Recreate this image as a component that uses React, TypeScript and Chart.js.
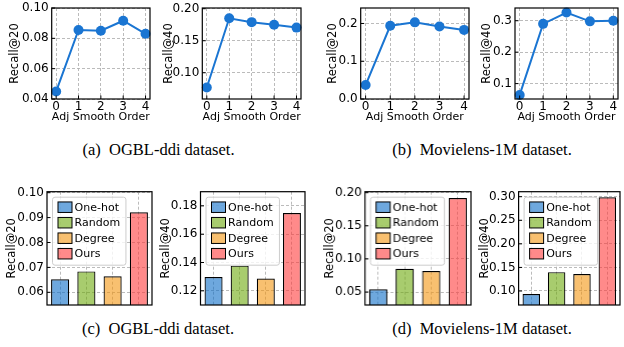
import React, { useEffect, useRef } from 'react';
import { Chart, registerables } from 'chart.js';
Chart.register(...registerables);
Chart.defaults.font.family = '"DejaVu Sans", sans-serif';
Chart.defaults.color = '#000';

// ---------- data ----------
const ORDERS = [0, 1, 2, 3, 4];
const ORDER_TICKS = ['0', '1', '2', '3', '4'];
const ORDER_TITLE = 'Adj Smooth Order';

const OGBL_ORDER_R20 = [0.045, 0.0855, 0.085, 0.0916, 0.083];
const OGBL_ORDER_R40 = [0.077, 0.185, 0.179, 0.175, 0.1705];
const ML_ORDER_R20 = [0.037, 0.194, 0.203, 0.192, 0.183];
const ML_ORDER_R40 = [0.064, 0.29, 0.326, 0.298, 0.3];

const OGBL_ORDER_R20_TICKS = ['0.04', '0.06', '0.08', '0.10'];
const OGBL_ORDER_R40_TICKS = ['0.10', '0.15', '0.20'];
const ML_ORDER_R20_TICKS = ['0.0', '0.1', '0.2'];
const ML_ORDER_R40_TICKS = ['0.1', '0.2', '0.3'];

const OGBL_ORDER_R20_RANGE = [0.04, 0.1];
const OGBL_ORDER_R40_RANGE = [0.059, 0.2011];
const ML_ORDER_R20_RANGE = [0.0, 0.241];
const ML_ORDER_R40_RANGE = [0.051, 0.3405];

const FEATURES = ['One-hot', 'Random', 'Degree', 'Ours'];
const OGBL_FEAT_R20 = [0.0652, 0.0684, 0.0664, 0.0921];
const OGBL_FEAT_R40 = [0.1297, 0.1378, 0.1287, 0.1749];
const ML_FEAT_R20 = [0.054, 0.085, 0.0817, 0.192];
const ML_FEAT_R40 = [0.0937, 0.14, 0.1358, 0.2988];

const OGBL_FEAT_R20_TICKS = ['0.06', '0.07', '0.08', '0.09', '0.10'];
const OGBL_FEAT_R40_TICKS = ['0.12', '0.14', '0.16', '0.18'];
const ML_FEAT_R20_TICKS = ['0.05', '0.10', '0.15', '0.20'];
const ML_FEAT_R40_TICKS = ['0.10', '0.15', '0.20', '0.25', '0.30'];

const OGBL_FEAT_R20_RANGE = [0.0549, 0.1004];
const OGBL_FEAT_R40_RANGE = [0.11, 0.19];
const ML_FEAT_R20_RANGE = [0.0304, 0.2015];
const ML_FEAT_R40_RANGE = [0.0703, 0.3106];

const CAPTIONS = ['(a)\u2002OGBL-ddi dataset.', '(b)\u2002Movielens-1M dataset.', '(c)\u2002OGBL-ddi dataset.', '(d)\u2002Movielens-1M dataset.'];

// ---------- styles ----------
const LINE_COLOR = '#1a75d2';
const BAR_COLORS = ['rgba(13,110,200,0.6)', 'rgba(110,170,13,0.6)', 'rgba(243,150,17,0.6)', 'rgba(255,60,60,0.6)'];
const GRID_COLOR = '#b3b3b3';

const framePlugin = {
  id: 'frame',
  afterDatasetsDraw(chart: any) {
    const { ctx, chartArea: a } = chart;
    const opts = chart.options.plugins.frame || {};
    ctx.save();
    ctx.strokeStyle = '#000';
    ctx.lineWidth = 1;
    const ys = chart.scales.y;
    ys.ticks.forEach((t: any) => {
      const y = ys.getPixelForValue(t.value);
      ctx.beginPath();
      ctx.moveTo(a.left, y);
      ctx.lineTo(a.left + 3.5, y);
      ctx.stroke();
    });
    if (opts.xTicks) {
      const xs = chart.scales.x;
      xs.ticks.forEach((t: any) => {
        const x = xs.getPixelForValue(t.value);
        ctx.beginPath();
        ctx.moveTo(x, a.bottom);
        ctx.lineTo(x, a.bottom - 3.5);
        ctx.stroke();
      });
    }
    ctx.lineWidth = 1.2;
    ctx.strokeRect(a.left, a.top, a.right - a.left, a.bottom - a.top);
    ctx.restore();
  },
};

const insetLegendPlugin = {
  id: 'insetLegend',
  afterDraw(chart: any) {
    const opts = chart.options.plugins.insetLegend;
    if (!opts || !opts.display) return;
    const { ctx, chartArea: a } = chart;
    const labels: string[] = chart.data.labels;
    const colors: string[] = chart.data.datasets[0].backgroundColor;
    ctx.save();
    ctx.font = '11px "DejaVu Sans"';
    const textW = Math.max(...labels.map((l) => ctx.measureText(l).width));
    const x0 = a.left + 5.5;
    const y0 = a.top + 5.5;
    const w = 5.5 + 14 + 2.6 + textW + 5.8;
    const h = 68;
    const r = 2.5;
    ctx.beginPath();
    ctx.moveTo(x0 + r, y0);
    ctx.arcTo(x0 + w, y0, x0 + w, y0 + h, r);
    ctx.arcTo(x0 + w, y0 + h, x0, y0 + h, r);
    ctx.arcTo(x0, y0 + h, x0, y0, r);
    ctx.arcTo(x0, y0, x0 + w, y0, r);
    ctx.closePath();
    ctx.fillStyle = 'rgba(255,255,255,0.8)';
    ctx.fill();
    ctx.strokeStyle = '#cccccc';
    ctx.lineWidth = 1;
    ctx.stroke();
    labels.forEach((l, i) => {
      const cy = y0 + 10 + i * 15.5;
      ctx.fillStyle = colors[i];
      ctx.fillRect(x0 + 5.5, cy - 5.25, 14, 10.5);
      ctx.strokeStyle = '#000';
      ctx.lineWidth = 1;
      ctx.strokeRect(x0 + 5.5, cy - 5.25, 14, 10.5);
      ctx.fillStyle = '#000';
      ctx.textBaseline = 'middle';
      ctx.textAlign = 'left';
      ctx.fillText(l, x0 + 5.5 + 14 + 2.6, cy + 0.5);
    });
    ctx.restore();
  },
};

type Box = { l: number; t: number; r: number; b: number };

function yScale(box: Box, canvasLeft: number, ticks: string[], range: number[], title: string) {
  return {
    type: 'linear',
    min: range[0],
    max: range[1],
    afterBuildTicks: (s: any) => {
      s.ticks = ticks.map((t) => ({ value: parseFloat(t) }));
    },
    afterFit: (s: any) => {
      s.width = box.l - canvasLeft;
      s.paddingTop = 0;
      s.paddingBottom = 0;
    },
    ticks: {
      callback: (_v: any, i: number) => ticks[i],
      font: { size: 12 },
      color: '#000',
      padding: 3,
    },
    grid: { color: GRID_COLOR, lineWidth: 0.9, drawTicks: false },
    border: { display: false, dash: [3, 2] },
    title: { display: true, text: title, font: { size: 11.5 }, color: '#000', padding: 0 },
  };
}

function LinePanel(props: { box: Box; titleX: number; values: number[]; ticks: string[]; range: number[]; ytitle: string }) {
  const ref = useRef<HTMLCanvasElement>(null);
  const { box, titleX } = props;
  const cl = titleX - 7;
  const ct = 0;
  const cr = box.r + 1;
  const cb = 124;
  useEffect(() => {
    const chart = new Chart(ref.current as HTMLCanvasElement, {
      type: 'line',
      data: {
        datasets: [
          {
            data: ORDERS.map((x, i) => ({ x, y: props.values[i] })),
            borderColor: LINE_COLOR,
            backgroundColor: LINE_COLOR,
            borderWidth: 2,
            pointRadius: 5,
            pointBorderWidth: 0,
            pointBackgroundColor: LINE_COLOR,
            tension: 0,
            clip: false,
          } as any,
        ],
      },
      options: {
        responsive: false,
        animation: false,
        layout: { padding: { left: 0, top: box.t - ct, right: cr - box.r, bottom: 0 } },
        plugins: { legend: { display: false }, tooltip: { enabled: false }, frame: { xTicks: true } } as any,
        scales: {
          x: {
            type: 'linear',
            min: -0.2,
            max: 4.2,
            afterBuildTicks: (s: any) => {
              s.ticks = ORDERS.map((v) => ({ value: v }));
            },
            afterFit: (s: any) => {
              s.height = cb - box.b;
              s.paddingLeft = 0;
              s.paddingRight = 0;
            },
            ticks: {
              callback: (_v: any, i: number) => ORDER_TICKS[i],
              font: { size: 12 },
              color: '#000',
              padding: 1,
              maxRotation: 0,
              autoSkip: false,
            },
            grid: { color: GRID_COLOR, lineWidth: 0.9, drawTicks: false },
            border: { display: false, dash: [3, 2] },
            title: { display: true, text: ORDER_TITLE, font: { size: 11 }, color: '#000', padding: 0 },
          } as any,
          y: yScale(box, cl, props.ticks, props.range, props.ytitle) as any,
        },
      },
      plugins: [framePlugin],
    });
    return () => chart.destroy();
  }, []);
  return (
    <canvas
      ref={ref}
      width={cr - cl}
      height={cb - ct}
      style={{ position: 'absolute', left: cl, top: ct, width: cr - cl, height: cb - ct }}
    />
  );
}

function BarPanel(props: { box: Box; titleX: number; values: number[]; ticks: string[]; range: number[]; ytitle: string }) {
  const ref = useRef<HTMLCanvasElement>(null);
  const { box, titleX } = props;
  const cl = titleX - 7;
  const ct = 180;
  const cr = box.r + 1;
  const cb = box.b + 2;
  useEffect(() => {
    const chart = new Chart(ref.current as HTMLCanvasElement, {
      type: 'bar',
      data: {
        labels: FEATURES,
        datasets: [
          {
            data: props.values,
            backgroundColor: BAR_COLORS,
            borderColor: '#000',
            borderWidth: 1.2,
            barPercentage: 0.69,
            categoryPercentage: 1,
          } as any,
        ],
      },
      options: {
        responsive: false,
        animation: false,
        layout: { padding: { left: 0, top: box.t - ct, right: cr - box.r, bottom: cb - box.b } },
        plugins: { legend: { display: false }, tooltip: { enabled: false }, insetLegend: { display: true }, frame: { xTicks: false } } as any,
        scales: {
          x: {
            type: 'category',
            offset: true,
            afterFit: (s: any) => {
              s.height = 0;
              s.paddingLeft = 0;
              s.paddingRight = 0;
            },
            ticks: { display: false },
            grid: { color: GRID_COLOR, lineWidth: 0.9, drawTicks: false, offset: false },
            border: { display: false, dash: [3, 2] },
          } as any,
          y: yScale(box, cl, props.ticks, props.range, props.ytitle) as any,
        },
      },
      plugins: [framePlugin, insetLegendPlugin],
    });
    return () => chart.destroy();
  }, []);
  return (
    <canvas
      ref={ref}
      width={cr - cl}
      height={cb - ct}
      style={{ position: 'absolute', left: cl, top: ct, width: cr - cl, height: cb - ct }}
    />
  );
}

function Caption(props: { text: string; cx: number; top: number }) {
  return (
    <div
      style={{
        position: 'absolute',
        left: props.cx - 150,
        width: 300,
        top: props.top,
        height: 20,
        lineHeight: '20px',
        textAlign: 'center',
        fontFamily: '"Liberation Serif", serif',
        fontSize: 16.5,
        color: '#000',
        whiteSpace: 'nowrap',
      }}
    >
      {props.text}
    </div>
  );
}

export default function App() {
  return (
    <div style={{ position: 'fixed', left: 0, top: 0, width: 624, height: 347, background: '#fff', overflow: 'hidden' }}>
      <LinePanel box={{ l: 51.7, t: 8, r: 154, b: 99 }} titleX={15} values={OGBL_ORDER_R20} ticks={OGBL_ORDER_R20_TICKS} range={OGBL_ORDER_R20_RANGE} ytitle="Recall@20" />
      <LinePanel box={{ l: 202.3, t: 8, r: 305, b: 99 }} titleX={169} values={OGBL_ORDER_R40} ticks={OGBL_ORDER_R40_TICKS} range={OGBL_ORDER_R40_RANGE} ytitle="Recall@40" />
      <LinePanel box={{ l: 360.7, t: 8, r: 473, b: 99 }} titleX={333} values={ML_ORDER_R20} ticks={ML_ORDER_R20_TICKS} range={ML_ORDER_R20_RANGE} ytitle="Recall@20" />
      <LinePanel box={{ l: 515, t: 8, r: 622, b: 99 }} titleX={487} values={ML_ORDER_R40} ticks={ML_ORDER_R40_TICKS} range={ML_ORDER_R40_RANGE} ytitle="Recall@40" />
      <BarPanel box={{ l: 46.7, t: 191.7, r: 151.7, b: 305 }} titleX={11.7} values={OGBL_FEAT_R20} ticks={OGBL_FEAT_R20_TICKS} range={OGBL_FEAT_R20_RANGE} ytitle="Recall@20" />
      <BarPanel box={{ l: 200, t: 191.7, r: 305, b: 305 }} titleX={165.5} values={OGBL_FEAT_R40} ticks={OGBL_FEAT_R40_TICKS} range={OGBL_FEAT_R40_RANGE} ytitle="Recall@40" />
      <BarPanel box={{ l: 365, t: 191.7, r: 471, b: 305 }} titleX={330.3} values={ML_FEAT_R20} ticks={ML_FEAT_R20_TICKS} range={ML_FEAT_R20_RANGE} ytitle="Recall@20" />
      <BarPanel box={{ l: 518.3, t: 191.7, r: 620, b: 305 }} titleX={484.7} values={ML_FEAT_R40} ticks={ML_FEAT_R40_TICKS} range={ML_FEAT_R40_RANGE} ytitle="Recall@40" />
      <Caption text={CAPTIONS[0]} cx={158.5} top={139.9} />
      <Caption text={CAPTIONS[1]} cx={482} top={139.9} />
      <Caption text={CAPTIONS[2]} cx={158} top={318.6} />
      <Caption text={CAPTIONS[3]} cx={482} top={318.6} />
    </div>
  );
}
